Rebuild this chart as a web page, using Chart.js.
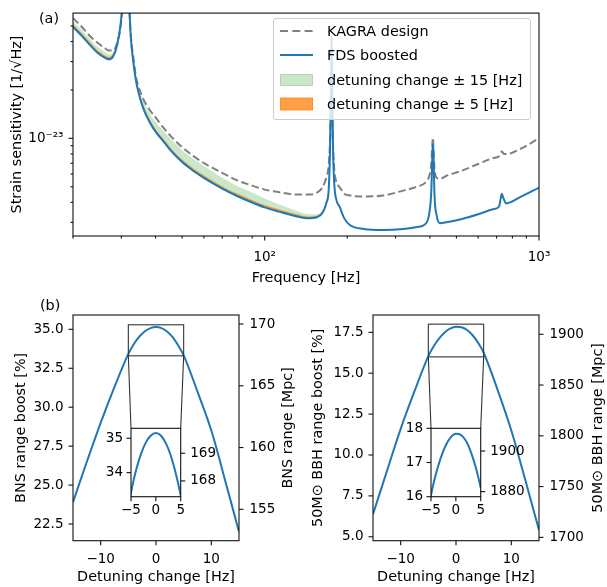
<!DOCTYPE html>
<html>
<head>
<meta charset="utf-8">
<title>FDS detuning sensitivity</title>
<script src="https://cdn.jsdelivr.net/npm/chart.js@4.4.1/dist/chart.umd.min.js"></script>
<style>
  body { margin: 0; background: #fff; }
  #figure { position: relative; width: 607px; height: 587px; font-family: 'DejaVu Sans', sans-serif; color: #000; }
  #figure canvas { position: absolute; }
  .tag { position: absolute; font-size: 14.4px; line-height: 1; }
  #legend { position: absolute; left: 273px; top: 18px; width: 256px; height: 100px; border: 1px solid #cccccc;
            border-radius: 3px; background: rgba(255, 255, 255, 0.8); font-size: 14.4px; }
  #legend .row { position: absolute; left: 6px; width: 248px; height: 20px; display: flex; align-items: center; white-space: nowrap; }
  #legend svg { display: block; flex: 0 0 33px; margin-right: 14px; }
</style>
</head>
<body>
<div id="figure">
  <canvas id="strainChart" width="607" height="290" style="left:0;top:0"></canvas>
  <canvas id="bnsChart" width="300" height="292" style="left:0;top:295px"></canvas>
  <canvas id="bnsInset" width="300" height="292" style="left:0;top:295px"></canvas>
  <canvas id="bbhChart" width="307" height="292" style="left:300px;top:295px"></canvas>
  <canvas id="bbhInset" width="307" height="292" style="left:300px;top:295px"></canvas>

  <div class="tag" style="left:39px;top:10.5px">(a)</div>
  <div class="tag" style="left:40px;top:298px">(b)</div>

  <div id="legend">
    <div class="row" style="top:2px">
      <svg width="33" height="20"><line x1="0" y1="10" x2="33" y2="10" stroke="#808080" stroke-width="2" stroke-dasharray="8 4.3"/></svg>KAGRA design
    </div>
    <div class="row" style="top:26.3px">
      <svg width="33" height="20"><line x1="0" y1="10" x2="33" y2="10" stroke="#1f77b4" stroke-width="2"/></svg>FDS boosted
    </div>
    <div class="row" style="top:50.6px">
      <svg width="33" height="20"><rect x="0.5" y="4.5" width="32" height="11" fill="rgba(44,160,44,0.25)" stroke="rgba(44,160,44,0.3)"/></svg>detuning change ± 15 [Hz]
    </div>
    <div class="row" style="top:75px">
      <svg width="33" height="20"><rect x="0.5" y="4" width="32" height="12" fill="rgba(255,127,14,0.75)" stroke="rgba(255,127,14,0.8)"/></svg>detuning change ± 5 [Hz]
    </div>
  </div>
</div>

<script>
// ---- panel (a): strain sensitivity curves ----
const freqs = [20, 21.5, 23, 24.5, 26, 27, 28, 29, 30, 30.6, 31.2, 31.8, 32.5, 33.2, 34, 35, 36.5, 38, 40, 43,
               46, 50, 55, 60, 70, 80, 90, 100, 115, 130, 145, 155, 163, 168, 171, 173, 174.5, 175.3, 176, 177.5,
               179.5, 182, 188, 195, 205, 230, 270, 320, 360, 385, 398, 405, 409, 410.5, 412, 416, 424, 435, 460, 520,
               600, 680, 715, 725, 732, 740, 760, 850, 1000];

const kagraDesign = [5.61e-23, 4.94e-23, 4.35e-23, 3.94e-23, 3.67e-23, 3.52e-23, 3.52e-23, 3.94e-23, 5.37e-23, 8.6e-23,
                     1.4e-22, 8.6e-23, 4.35e-23, 3.19e-23, 2.37e-23, 2.00e-23, 1.69e-23, 1.51e-23, 1.35e-23, 1.15e-23,
                     1.01e-23, 8.81e-24, 7.75e-24, 7.02e-24, 6.10e-24, 5.45e-24, 5.08e-24, 4.80e-24, 4.60e-24, 4.47e-24,
                     4.47e-24, 4.60e-24, 5.01e-24, 5.76e-24, 6.73e-24, 9.59e-24, 1.69e-23, 1.94e-23, 1.69e-23, 8.93e-24,
                     6.27e-24, 5.45e-24, 4.94e-24, 4.53e-24, 4.41e-24, 4.35e-24, 4.41e-24, 4.73e-24, 5.01e-24, 5.30e-24,
                     5.85e-24, 7.02e-24, 9.59e-24, 1.01e-23, 8.93e-24, 6.45e-24, 5.68e-24, 5.60e-24, 5.85e-24, 6.27e-24,
                     6.93e-24, 7.54e-24, 7.75e-24, 8.09e-24, 8.32e-24, 8.09e-24, 7.98e-24, 8.56e-24, 1.00e-23];

const fdsBoosted = [4.94e-23, 4.35e-23, 3.83e-23, 3.42e-23, 3.19e-23, 3.10e-23, 3.23e-23, 3.83e-23, 5.61e-23, 9.2e-23,
                    1.6e-22, 9.2e-23, 4.23e-23, 2.97e-23, 2.24e-23, 1.81e-23, 1.46e-23, 1.27e-23, 1.10e-23, 9.45e-24,
                    8.21e-24, 7.12e-24, 6.27e-24, 5.68e-24, 4.87e-24, 4.35e-24, 3.99e-24, 3.72e-24, 3.47e-24, 3.28e-24,
                    3.18e-24, 3.23e-24, 3.47e-24, 3.99e-24, 4.73e-24, 8.32e-24, 2.24e-23, 4.35e-23, 2.24e-23, 8.32e-24,
                    5.08e-24, 4.22e-24, 3.72e-24, 3.18e-24, 2.88e-24, 2.73e-24, 2.69e-24, 2.73e-24, 2.81e-24, 2.93e-24,
                    3.42e-24, 4.73e-24, 8.32e-24, 9.19e-24, 8.32e-24, 4.41e-24, 3.28e-24, 2.97e-24, 3.01e-24, 3.14e-24,
                    3.37e-24, 3.62e-24, 3.77e-24, 4.22e-24, 4.53e-24, 4.29e-24, 3.94e-24, 4.29e-24, 4.94e-24];

// upper edge of the +-15 Hz detuning band (lower edge is the FDS boosted curve)
const detune15Upper = [5.37e-23, 4.73e-23, 4.17e-23, 3.72e-23, 3.47e-23, 3.32e-23, 3.42e-23, 3.94e-23, 5.68e-23, 9.4e-23,
                       1.62e-22, 9.4e-23, 4.35e-23, 3.10e-23, 2.33e-23, 1.94e-23, 1.64e-23, 1.44e-23, 1.27e-23, 1.10e-23,
                       9.72e-24, 8.44e-24, 7.43e-24, 6.73e-24, 5.68e-24, 5.01e-24, 4.60e-24, 4.22e-24, 3.83e-24, 3.56e-24,
                       3.37e-24, 3.37e-24, 3.62e-24, 4.11e-24, 4.80e-24, 8.32e-24, 2.24e-23, 4.35e-23, 2.24e-23, 8.32e-24,
                       5.08e-24, 4.22e-24, 3.72e-24, 3.18e-24, 2.88e-24, 2.73e-24, 2.69e-24, 2.73e-24, 2.81e-24, 2.93e-24,
                       3.42e-24, 4.73e-24, 8.32e-24, 9.19e-24, 8.32e-24, 4.41e-24, 3.28e-24, 2.97e-24, 3.01e-24, 3.14e-24,
                       3.37e-24, 3.62e-24, 3.77e-24, 4.22e-24, 4.53e-24, 4.29e-24, 3.94e-24, 4.29e-24, 4.94e-24];

// upper edge of the +-5 Hz detuning band
const detune5Upper = [5.11e-23, 4.50e-23, 3.97e-23, 3.54e-23, 3.30e-23, 3.21e-23, 3.35e-23, 3.88e-23, 5.66e-23, 9.3e-23,
                      1.61e-22, 9.3e-23, 4.30e-23, 3.08e-23, 2.32e-23, 1.88e-23, 1.52e-23, 1.32e-23, 1.14e-23, 9.79e-24,
                      8.50e-24, 7.38e-24, 6.50e-24, 5.89e-24, 5.04e-24, 4.50e-24, 4.14e-24, 3.85e-24, 3.59e-24, 3.39e-24,
                      3.27e-24, 3.30e-24, 3.52e-24, 4.03e-24, 4.75e-24, 8.32e-24, 2.24e-23, 4.35e-23, 2.24e-23, 8.32e-24,
                      5.08e-24, 4.22e-24, 3.72e-24, 3.18e-24, 2.88e-24, 2.73e-24, 2.69e-24, 2.73e-24, 2.81e-24, 2.93e-24,
                      3.42e-24, 4.73e-24, 8.32e-24, 9.19e-24, 8.32e-24, 4.41e-24, 3.28e-24, 2.97e-24, 3.01e-24, 3.14e-24,
                      3.37e-24, 3.62e-24, 3.77e-24, 4.22e-24, 4.53e-24, 4.29e-24, 3.94e-24, 4.29e-24, 4.94e-24];

const freqTicks = [20, 30, 40, 50, 60, 70, 80, 90, 100, 200, 300, 400, 500, 600, 700, 800, 900, 1000];
const freqTickLabels = ['', '', '', '', '', '', '', '', '10²', '', '', '', '', '', '', '', '', '10³'];
const strainTicks = [3e-24, 4e-24, 5e-24, 6e-24, 7e-24, 8e-24, 9e-24, 1e-23, 2e-23, 3e-23, 4e-23, 5e-23];
const strainTickLabels = ['', '', '', '', '', '', '', '10⁻²³', '', '', '', ''];

// ---- panel (b): range boost vs detuning change ----
const detuning = [-15, -12.5, -10, -7.5, -5, -4, -3, -2, -1, 0, 1, 2, 3, 4, 5, 7.5, 10, 12.5, 15];
const bnsBoost = [23.9, 26.5, 29.0, 31.3, 33.42, 34.06, 34.54, 34.88, 35.08, 35.15, 35.08, 34.86, 34.50, 33.98, 33.33,
                  31.0, 28.5, 25.3, 22.0];
const bbhBoost = [6.38, 9.0, 11.6, 13.9, 16.05, 16.67, 17.15, 17.51, 17.74, 17.84, 17.81, 17.64, 17.32, 16.86, 16.25,
                  14.0, 11.5, 8.5, 5.41];

const detuningTicks = [-10, 0, 10];
const detuningTickLabels = ['−10', '0', '10'];
const insetDetuningTicks = [-5, 0, 5];
const insetDetuningTickLabels = ['−5', '0', '5'];
const bnsBoostTicks = [22.5, 25, 27.5, 30, 32.5, 35];
const bnsBoostTickLabels = ['22.5', '25.0', '27.5', '30.0', '32.5', '35.0'];
const bnsRangeTicks = [155, 160, 165, 170];
const bnsRangeTickLabels = ['155', '160', '165', '170'];
const bnsInsetBoostTicks = [34, 35];
const bnsInsetBoostTickLabels = ['34', '35'];
const bnsInsetRangeTicks = [168, 169];
const bnsInsetRangeTickLabels = ['168', '169'];
const bbhBoostTicks = [5, 7.5, 10, 12.5, 15, 17.5];
const bbhBoostTickLabels = ['5.0', '7.5', '10.0', '12.5', '15.0', '17.5'];
const bbhRangeTicks = [1700, 1750, 1800, 1850, 1900];
const bbhRangeTickLabels = ['1700', '1750', '1800', '1850', '1900'];
const bbhInsetBoostTicks = [16, 17, 18];
const bbhInsetBoostTickLabels = ['16', '17', '18'];
const bbhInsetRangeTicks = [1880, 1900];
const bbhInsetRangeTickLabels = ['1880', '1900'];

Chart.defaults.font.family = "'DejaVu Sans', sans-serif";
Chart.defaults.color = '#000';

const tickFont = { size: 13.5 };
const titleFont = { size: 14.4 };
const hiddenGrid = { drawOnChartArea: false, drawTicks: true, tickLength: 4.5, color: 'rgba(0,0,0,0)' };

// full box frame + matplotlib style tick marks (short ones for unlabeled minor ticks)
const frameTicks = {
    id: 'frameTicks',
    afterDraw(chart) {
        const { ctx, chartArea: a } = chart;
        ctx.save();
        ctx.strokeStyle = '#111';
        ctx.lineWidth = 1.1;
        ctx.strokeRect(a.left, a.top, a.right - a.left, a.bottom - a.top);
        Object.values(chart.scales).forEach(scale => {
            scale.ticks.forEach(t => {
                const len = t.label ? 4.5 : 2.5;
                const p = scale.getPixelForValue(t.value);
                ctx.beginPath();
                if (scale.position === 'bottom') {
                    ctx.moveTo(p, a.bottom); ctx.lineTo(p, a.bottom + len);
                } else if (scale.position === 'left') {
                    ctx.moveTo(a.left, p); ctx.lineTo(a.left - len, p);
                } else {
                    ctx.moveTo(a.right, p); ctx.lineTo(a.right + len, p);
                }
                ctx.stroke();
            });
        });
        ctx.restore();
    }
};

// right-hand axis title, read bottom to top like the left one
const sideTitle = {
    id: 'sideTitle',
    afterDraw(chart, args, opts) {
        if (!opts || !opts.text) return;
        const { ctx, chartArea: a } = chart;
        ctx.save();
        ctx.translate(a.right + opts.offset, (a.top + a.bottom) / 2);
        ctx.rotate(-Math.PI / 2);
        ctx.font = "14.4px 'DejaVu Sans'";
        ctx.fillStyle = '#000';
        ctx.textAlign = 'center';
        ctx.textBaseline = 'middle';
        ctx.fillText(opts.text, 0, 0);
        ctx.restore();
    }
};

// white inset background, zoom rectangle on the host axes and the two connector lines
function zoomMarker(host) {
    return {
        id: 'zoomMarker',
        beforeDraw(chart) {
            const { ctx, chartArea: a } = chart;
            ctx.save();
            ctx.fillStyle = '#fff';
            ctx.fillRect(a.left, a.top, a.right - a.left, a.bottom - a.top);
            ctx.restore();
        },
        afterDraw(chart) {
            const { ctx, chartArea: a, scales } = chart;
            const hx = host.scales.x, hy = host.scales.y;
            const x0 = hx.getPixelForValue(scales.x.min), x1 = hx.getPixelForValue(scales.x.max);
            const y0 = hy.getPixelForValue(scales.y.max), y1 = hy.getPixelForValue(scales.y.min);
            ctx.save();
            ctx.strokeStyle = '#333';
            ctx.lineWidth = 1.1;
            ctx.strokeRect(x0, y0, x1 - x0, y1 - y0);
            ctx.beginPath();
            ctx.moveTo(x0, y1); ctx.lineTo(a.left, a.top);
            ctx.moveTo(x1, y1); ctx.lineTo(a.right, a.top);
            ctx.stroke();
            ctx.restore();
        }
    };
}

function fixedSize(size) {
    return scale => {
        if (scale.isHorizontal()) scale.height = size;
        else scale.width = size;
    };
}

function axis(type, position, min, max, values, labels, size, pad, extra) {
    return Object.assign({
        type: type,
        position: position,
        min: min,
        max: max,
        bounds: 'data',
        afterFit: fixedSize(size),
        afterBuildTicks: scale => { scale.ticks = values.map(v => ({ value: v })); },
        ticks: { autoSkip: false, maxRotation: 0, padding: pad, font: tickFont, callback: (v, i) => labels[i] },
        grid: hiddenGrid,
        border: { display: false }
    }, extra || {});
}

const baseOptions = { responsive: false, animation: false, events: [] };
const quietPlugins = { legend: { display: false }, tooltip: { enabled: false } };

// panel (a)
const pairs = values => freqs.map((f, i) => ({ x: f, y: values[i] }));
const curveStyle = { pointRadius: 0, cubicInterpolationMode: 'monotone' };

new Chart(document.getElementById('strainChart'), {
    type: 'line',
    data: {
        datasets: [
            Object.assign({ label: 'FDS boosted', data: pairs(fdsBoosted), borderColor: '#1f77b4', borderWidth: 2, fill: false }, curveStyle),
            Object.assign({ label: 'KAGRA design', data: pairs(kagraDesign), borderColor: '#808080', borderWidth: 2,
                            borderDash: [7.5, 3.5], fill: false }, curveStyle),
            Object.assign({ label: 'detuning change ± 5 [Hz]', data: pairs(detune5Upper), borderColor: 'rgba(0,0,0,0)',
                            borderWidth: 1, backgroundColor: 'rgba(255,127,14,0.75)', fill: '-2' }, curveStyle),
            Object.assign({ label: 'detuning change ± 15 [Hz]', data: pairs(detune15Upper), borderColor: 'rgba(0,0,0,0)',
                            borderWidth: 1, backgroundColor: 'rgba(44,160,44,0.25)', fill: '-3' }, curveStyle)
        ]
    },
    options: Object.assign({}, baseOptions, {
        layout: { padding: { top: 10, left: 0, right: 68, bottom: 0 } },
        plugins: quietPlugins,
        scales: {
            x: axis('logarithmic', 'bottom', 20, 1000, freqTicks, freqTickLabels, 54, 9, {
                title: { display: true, text: 'Frequency [Hz]', font: titleFont, padding: { top: 0, bottom: 3.4 } }
            }),
            y: axis('logarithmic', 'left', 2.47e-24, 6.01e-23, strainTicks, strainTickLabels, 73, 5, {
                title: { display: true, text: 'Strain sensitivity [1/√Hz]', font: titleFont, padding: { top: 8.9, bottom: 0 } }
            })
        }
    }),
    plugins: [frameTicks]
});

// panel (b)
const boostLine = values => Object.assign({
    data: detuning.map((d, i) => ({ x: d, y: values[i] })),
    borderColor: '#1f77b4', borderWidth: 2, fill: false
}, curveStyle);

function rangePanel(id, values, y, y2, leftTitle, leftPad, rightTitle, rightOffset, y2Width) {
    return new Chart(document.getElementById(id), {
        type: 'line',
        data: { datasets: [boostLine(values)] },
        options: Object.assign({}, baseOptions, {
            layout: { padding: { top: 20, left: 0, right: 0, bottom: 0 } },
            plugins: Object.assign({}, quietPlugins, { sideTitle: { text: rightTitle, offset: rightOffset } }),
            scales: {
                x: axis('linear', 'bottom', -15, 15, detuningTicks, detuningTickLabels, 46.3, 6, {
                    title: { display: true, text: 'Detuning change [Hz]', font: titleFont, padding: { top: 0, bottom: 1.4 } }
                }),
                y: axis('linear', 'left', y[0], y[1], y[2], y[3], 73, 5, {
                    title: { display: true, text: leftTitle, font: titleFont, padding: { top: leftPad, bottom: 0 } }
                }),
                y2: axis('linear', 'right', y2[0], y2[1], y2[2], y2[3], y2Width, 6)
            }
        }),
        plugins: [frameTicks, sideTitle]
    });
}

function insetPanel(id, host, values, y, y2, rightPad) {
    return new Chart(document.getElementById(id), {
        type: 'line',
        data: { datasets: [boostLine(values)] },
        options: Object.assign({}, baseOptions, {
            layout: { padding: { top: 133.3, left: 91, right: rightPad, bottom: 60.3 } },
            plugins: quietPlugins,
            scales: {
                x: axis('linear', 'bottom', -5, 5, insetDetuningTicks, insetDetuningTickLabels, 30, 1),
                y: axis('linear', 'left', y[0], y[1], y[2], y[3], 40, 3.5),
                y2: axis('linear', 'right', y2[0], y2[1], y2[2], y2[3], 60, 5)
            }
        }),
        plugins: [zoomMarker(host), frameTicks]
    });
}

const bnsChart = rangePanel('bnsChart', bnsBoost,
    [21.43, 35.92, bnsBoostTicks, bnsBoostTickLabels],
    [152.46, 170.73, bnsRangeTicks, bnsRangeTickLabels],
    'BNS range boost [%]', 13, 'BNS range [Mpc]', 49, 61);

insetPanel('bnsInset', bnsChart, bnsBoost,
    [33.30, 35.29, bnsInsetBoostTicks, bnsInsetBoostTickLabels],
    [167.43, 169.90, bnsInsetRangeTicks, bnsInsetRangeTickLabels], 59.3);

const bbhChart = rangePanel('bbhChart', bbhBoost,
    [4.76, 18.56, bbhBoostTicks, bbhBoostTickLabels],
    [1696.7, 1919.0, bbhRangeTicks, bbhRangeTickLabels],
    '50M⊙ BBH range boost [%]', 9.9, '50M⊙ BBH range [Mpc]', 59, 68);

insetPanel('bbhInset', bbhChart, bbhBoost,
    [16, 18, bbhInsetBoostTicks, bbhInsetBoostTickLabels],
    [1877.5, 1911.2, bbhInsetRangeTicks, bbhInsetRangeTickLabels], 66.3);
</script>
</body>
</html>
